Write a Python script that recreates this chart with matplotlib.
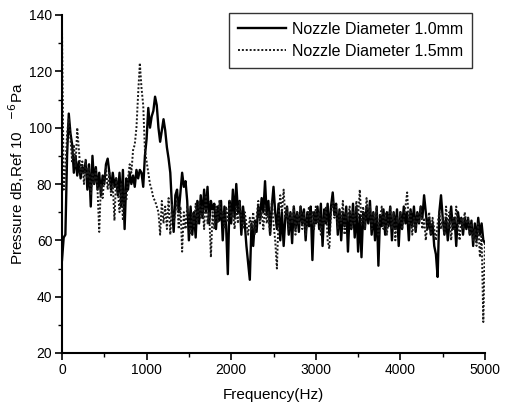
import numpy as np
import matplotlib
matplotlib.use("Agg")
import matplotlib.pyplot as plt
from matplotlib.ticker import MultipleLocator

plt.rcParams['font.family'] = ['Liberation Sans', 'DejaVu Sans']

# Frequency grid (Hz), 20 Hz spacing
freq = np.arange(0, 5001, 20)

# Nozzle Diameter 1.0mm (solid), dB
d10 = [
    53, 61, 62, 90, 105, 98, 94, 84, 90, 83,
    88, 82, 86, 84, 88, 78, 87, 72, 90, 80,
    86, 78, 84, 76, 83, 80, 87, 89, 84, 78,
    84, 79, 82, 76, 84, 72, 85, 64, 82, 78,
    84, 80, 83, 79, 85, 82, 85, 84, 79, 90,
    96, 107, 100, 104, 106, 111, 108, 100, 95, 99,
    103, 99, 93, 89, 84, 72, 63, 76, 78, 70,
    77, 84, 79, 81, 74, 60, 72, 62, 70, 61,
    74, 66, 76, 68, 78, 70, 79, 66, 74, 71,
    73, 64, 72, 67, 74, 60, 72, 65, 48, 74,
    66, 78, 68, 80, 70, 74, 62, 72, 66, 58,
    52, 46, 66, 58, 67, 63, 72, 68, 75, 70,
    81, 69, 74, 62, 72, 79, 70, 64, 73, 60,
    70, 58, 68, 72, 62, 70, 59, 72, 64, 70,
    63, 72, 66, 71, 60, 70, 65, 72, 53, 70,
    66, 72, 64, 73, 58, 71, 66, 73, 62, 72,
    77, 69, 73, 62, 71, 60, 70, 65, 72, 56,
    70, 64, 73, 61, 72, 56, 69, 54, 70, 64,
    72, 66, 74, 62, 70, 60, 72, 51, 69, 65,
    71, 62, 70, 65, 72, 60, 70, 64, 71, 58,
    70, 64, 72, 66, 70, 60, 71, 65, 72, 63,
    70, 66, 72, 68, 76, 70, 64, 68, 62, 66,
    58, 55, 47, 70, 76, 68, 62, 68, 60, 66,
    72, 64, 68, 58, 70, 66, 68, 62, 68, 64,
    68, 62, 67, 58, 66, 60, 68, 62, 66, 60,
    59,
]

# Nozzle Diameter 1.5mm (dotted), dB
d15 = [
    135, 78, 85, 98, 103, 96, 88, 94, 86, 100,
    92, 84, 88, 80, 89, 82, 86, 76, 84, 80,
    85, 78, 63, 80, 75, 82, 86, 78, 84, 76,
    80, 67, 82, 78, 70, 80, 67, 78, 74, 82,
    87, 84, 92, 94, 100, 112, 123, 114, 108, 92,
    88, 84, 80, 78, 75, 74, 72, 70, 62, 74,
    66, 72, 64, 75, 62, 73, 66, 70, 74, 64,
    72, 56, 70, 64, 72, 68, 62, 70, 65, 73,
    66, 74, 68, 72, 64, 76, 66, 70, 54, 70,
    64, 72, 66, 74, 68, 70, 64, 72, 67, 74,
    68, 70, 64, 72, 66, 74, 68, 64, 70, 66,
    62, 68, 64, 70, 62, 68, 74, 66, 70, 64,
    72, 66, 70, 62, 74, 66, 60, 50, 68, 76,
    70, 78, 68, 72, 64, 70, 66, 72, 62, 70,
    66, 72, 64, 70, 62, 68, 72, 66, 70, 64,
    72, 66, 70, 62, 68, 66, 72, 60, 57, 70,
    74, 68, 72, 64, 70, 66, 74, 62, 70, 68,
    72, 64, 70, 66, 74, 68, 78, 66, 72, 64,
    75, 68, 72, 64, 70, 66, 72, 62, 68, 72,
    64, 70, 62, 68, 72, 64, 70, 60, 68, 66,
    70, 64, 68, 72, 77, 66, 70, 62, 68, 64,
    70, 66, 72, 64, 68, 60, 66, 70, 62, 68,
    64, 60, 66, 70, 64, 68, 62, 72, 64, 70,
    60, 68, 64, 72, 66, 60, 68, 64, 70, 66,
    68, 62, 66, 60, 64, 58, 66, 54, 62, 31,
    60,
]

labels = ['Nozzle Diameter 1.0mm', 'Nozzle Diameter 1.5mm']

fig = plt.figure(figsize=(5.09, 4.05), dpi=100)
ax = fig.add_axes([62 / 509, 1 - 353 / 405, 423 / 509, 338 / 405])

ax.plot(freq, d10, color='black', lw=1.7, ls='-', label=labels[0])
ax.plot(freq, d15, color='#1a1a1a', lw=1.4, ls=(0, (1, 1)), label=labels[1])

ax.set_xlim(0, 5000)
ax.set_ylim(20, 140)
ax.xaxis.set_major_locator(MultipleLocator(1000))
ax.xaxis.set_minor_locator(MultipleLocator(500))
ax.yaxis.set_major_locator(MultipleLocator(20))
ax.yaxis.set_minor_locator(MultipleLocator(10))
ax.tick_params(which='major', direction='out', length=5, width=1.2, labelsize=10, pad=2)
ax.tick_params(which='minor', direction='out', length=3, width=1.0)
for s in ['top', 'right']:
    ax.spines[s].set_visible(False)
for s in ['left', 'bottom']:
    ax.spines[s].set_linewidth(1.5)

ax.set_xlabel('Frequency(Hz)', fontsize=11)
ax.xaxis.set_label_coords(0.5, -0.105)
ax.set_ylabel(r'Pressure dB,Ref 10   $^{-6}$Pa', fontsize=11)
ax.yaxis.set_label_coords(-0.082, 0.53)

leg = ax.legend(loc='upper right', bbox_to_anchor=(0.988, 1.03), fontsize=11.5,
                frameon=True, fancybox=False, edgecolor='black', handlelength=3.0,
                handletextpad=0.4, borderpad=0.55, labelspacing=0.45)
leg.get_frame().set_linewidth(1.0)

fig.savefig('out.png', dpi=100)
